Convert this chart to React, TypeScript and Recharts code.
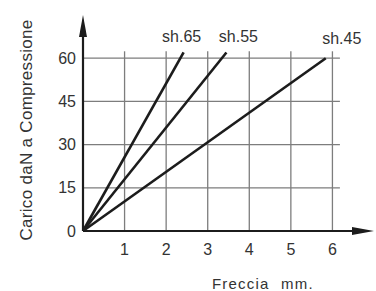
import React from "react";
import { LineChart, Line, XAxis, YAxis, ReferenceLine, LabelList } from "recharts";

// valori (freccia mm -> carico daN)
const seriesNames = ["sh.65", "sh.55", "sh.45"];
const sh65 = [
  { x: 0, y: 0 },
  { x: 2.42, y: 62 },
];
const sh55 = [
  { x: 0, y: 0 },
  { x: 3.45, y: 62 },
];
const sh45 = [
  { x: 0, y: 0 },
  { x: 5.84, y: 60 },
];
const xTicks = [1, 2, 3, 4, 5, 6];
const yTicks = [0, 15, 30, 45, 60];
const xMax = 7;
const yMax = 75;
const gridRight = 6.18;
const gridTop = 62.4;

const FONT = "'Liberation Sans', Arial, sans-serif";
const INK = "#1c1c1c";
const TEXT = "#333";
const GRID = "#7d7d7d";

// linea dell'asse con la freccia in punta
function ArrowAxis(props: any) {
  const { x1, y1, x2, y2 } = props;
  const dx = x2 - x1;
  const dy = y2 - y1;
  const len = Math.sqrt(dx * dx + dy * dy) || 1;
  const ux = dx / len;
  const uy = dy / len;
  const head = 22;
  const half = 4;
  const bx = x2 - ux * head;
  const by = y2 - uy * head;
  const pts = [
    `${x2},${y2}`,
    `${bx - uy * half},${by + ux * half}`,
    `${bx + uy * half},${by - ux * half}`,
  ].join(" ");
  return (
    <g>
      <line x1={x1} y1={y1} x2={bx} y2={by} stroke={INK} strokeWidth={2.2} />
      <polygon points={pts} fill={INK} />
    </g>
  );
}

function endLabel(name: string, last: number, dx: number, dy: number) {
  return (p: any) => {
    if (p.index !== last) return null;
    return (
      <text
        x={p.x + dx}
        y={p.y + dy}
        textAnchor="middle"
        fontFamily={FONT}
        fontSize={16}
        fill={TEXT}
      >
        {name}
      </text>
    );
  };
}

export default function App() {
  const lines = [
    { name: seriesNames[0], data: sh65, dx: -2, dy: -10 },
    { name: seriesNames[1], data: sh55, dx: 12, dy: -10 },
    { name: seriesNames[2], data: sh45, dx: 16, dy: -14 },
  ];

  return (
    <div style={{ position: "absolute", left: 0, top: 0, background: "#fff" }}>
      <LineChart
        width={376}
        height={291}
        margin={{ top: 15, right: 2, bottom: 30, left: 43 }}
      >
        <XAxis
          type="number"
          dataKey="x"
          domain={[0, xMax]}
          ticks={xTicks}
          axisLine={false}
          tickLine={false}
          tickSize={0}
          tickMargin={13}
          height={30}
          tick={{ fill: TEXT, fontSize: 16, fontFamily: FONT }}
          label={{
            content: () => (
              <text fontFamily={FONT} fontSize={15} fill={TEXT} letterSpacing={1.2}>
                <tspan x={212} y={289}>Freccia</tspan>
                <tspan x={281} y={289}>mm.</tspan>
              </text>
            ),
          }}
        />
        <YAxis
          type="number"
          dataKey="y"
          domain={[0, yMax]}
          ticks={yTicks}
          axisLine={false}
          tickLine={false}
          tickSize={0}
          tickMargin={7}
          width={40}
          tick={{ fill: TEXT, fontSize: 16, fontFamily: FONT }}
          label={{
            content: () => (
              <text
                x={32}
                y={130}
                transform="rotate(-90, 32, 130)"
                textAnchor="middle"
                fontFamily={FONT}
                fontSize={17}
                letterSpacing={0.3}
                fill={TEXT}
              >
                Carico daN a Compressione
              </text>
            ),
          }}
        />

        {yTicks
          .filter((v) => v > 0)
          .map((v) => (
            <ReferenceLine
              key={"h" + v}
              segment={[
                { x: 0, y: v },
                { x: gridRight, y: v },
              ]}
              stroke={GRID}
              strokeWidth={1.3}
              ifOverflow="visible"
            />
          ))}
        {xTicks.map((v) => (
          <ReferenceLine
            key={"v" + v}
            segment={[
              { x: v, y: 0 },
              { x: v, y: gridTop },
            ]}
            stroke={GRID}
            strokeWidth={1.3}
            ifOverflow="visible"
          />
        ))}

        <ReferenceLine
          segment={[
            { x: 0, y: 0 },
            { x: 0, y: yMax },
          ]}
          ifOverflow="visible"
          shape={ArrowAxis}
        />
        <ReferenceLine
          segment={[
            { x: 0, y: 0 },
            { x: xMax, y: 0 },
          ]}
          ifOverflow="visible"
          shape={ArrowAxis}
        />

        {lines.map((l) => (
          <Line
            key={l.name}
            data={l.data}
            dataKey="y"
            type="linear"
            stroke={INK}
            strokeWidth={2.6}
            dot={false}
            isAnimationActive={false}
          >
            <LabelList
              dataKey="y"
              content={endLabel(l.name, l.data.length - 1, l.dx, l.dy)}
            />
          </Line>
        ))}
      </LineChart>
    </div>
  );
}
